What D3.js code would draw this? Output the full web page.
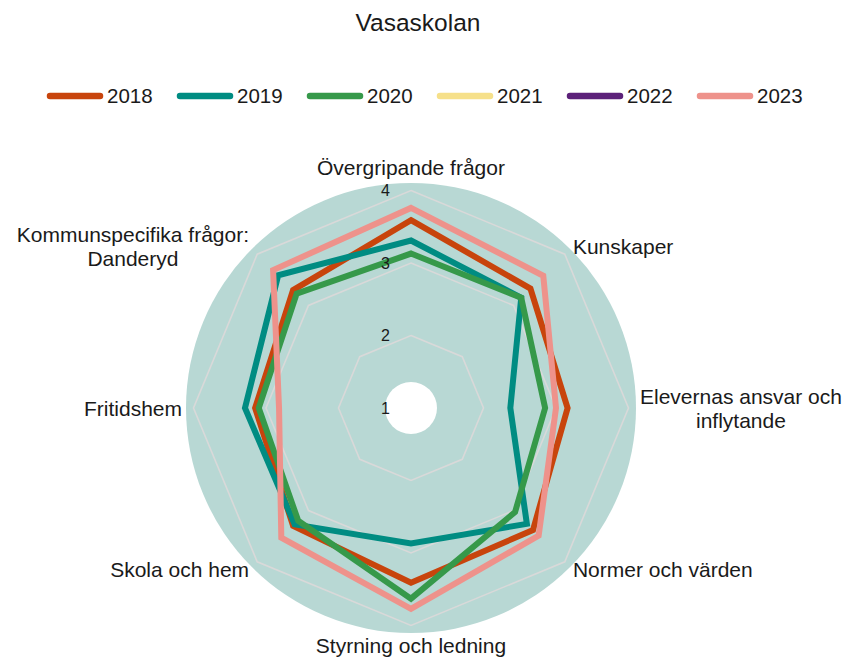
<!DOCTYPE html>
<html>
<head>
<meta charset="utf-8">
<script src="https://cdn.jsdelivr.net/npm/d3@7"></script>
<style>
	body { margin: 0; background: #fff; }
	svg text { font-family: "Liberation Sans", Arial, sans-serif; fill: #1a1a1a; }
</style>
</head>
<body>
<div id="chart"></div>
<script type="text/javascript">
(function() {
	'use strict';

	// categories, clockwise from top
	var categories = [
		'Övergripande frågor',
		'Kunskaper',
		'Elevernas ansvar och|inflytande',
		'Normer och värden',
		'Styrning och ledning',
		'Skola och hem',
		'Fritidshem',
		'Kommunspecifika frågor:|Danderyd'
	];
	var years = ['2018', '2019', '2020', '2021', '2022', '2023'];
	var colors = ['#c8440c', '#008c82', '#36994a', '#f6e08a', '#5c2179', '#ee928b'];

	var values2018 = [3.59, 3.33, 3.16, 3.38, 3.41, 3.30, 3.15, 3.30];
	var values2019 = [3.31, 3.15, 2.37, 3.26, 2.87, 3.27, 3.29, 3.59];
	var values2020 = [3.13, 3.15, 2.85, 3.03, 3.63, 3.20, 3.10, 3.23];
	var values2021 = [];
	var values2022 = [];
	var values2023 = [3.76, 3.58, 3.00, 3.49, 3.77, 3.53, 2.82, 3.69];
	var seriesValues = [values2018, values2019, values2020, values2021, values2022, values2023];

	var tickValues = [1, 2, 3, 4];

	var w = 845, h = 659;
	var cx = 411, cy = 408;
	var bgRadius = 225, holeRadius = 26, labelRadius = 229;

	var svg = d3.select('#chart').append('svg')
		.attr('width', w)
		.attr('height', h);

	var r = d3.scaleLinear().domain([1, 4]).range([0, 217.5]);
	var angle = d3.scalePoint().domain(d3.range(categories.length)).range([0, 2 * Math.PI * (1 - 1 / categories.length)]);

	function px(i, v) { return cx + r(v) * Math.sin(angle(i)); }
	function py(i, v) { return cy - r(v) * Math.cos(angle(i)); }

	// title
	svg.append('text')
		.attr('x', 418)
		.attr('y', 31)
		.attr('text-anchor', 'middle')
		.style('font-size', '24.5px')
		.text('Vasaskolan');

	// legend
	var legend = svg.selectAll('.legend')
		.data(years)
		.enter()
		.append('g')
		.attr('class', 'legend')
		.attr('transform', function(d, i) { return 'translate(' + (50 + i * 130) + ',96)'; });
	legend.append('line')
		.attr('x1', 0).attr('x2', 50)
		.attr('stroke', function(d, i) { return colors[i]; })
		.attr('stroke-width', 6.5)
		.attr('stroke-linecap', 'round');
	legend.append('text')
		.attr('x', 57)
		.attr('dy', '0.36em')
		.style('font-size', '20.5px')
		.text(function(d) { return d; });

	// background disc and hole
	svg.append('circle')
		.attr('cx', cx).attr('cy', cy).attr('r', bgRadius)
		.attr('fill', '#b8d8d4');

	var grid = svg.append('g');
	grid.selectAll('path')
		.data(tickValues.slice(1))
		.enter()
		.append('path')
		.attr('d', function(t) {
			return d3.line()(categories.map(function(c, i) { return [px(i, t), py(i, t)]; })) + 'Z';
		})
		.attr('fill', 'none')
		.attr('stroke', '#d9d9d9')
		.attr('stroke-width', 1.6);

	svg.append('circle')
		.attr('cx', cx).attr('cy', cy).attr('r', holeRadius)
		.attr('fill', '#fff');

	// series
	var line = d3.line()
		.x(function(d, i) { return px(i, d); })
		.y(function(d, i) { return py(i, d); });

	svg.selectAll('.series')
		.data(seriesValues)
		.enter()
		.append('path')
		.attr('class', 'series')
		.attr('d', function(d) { return d.length ? line(d) + 'Z' : null; })
		.attr('fill', 'none')
		.attr('stroke', function(d, i) { return colors[i]; })
		.attr('stroke-width', 6)
		.attr('stroke-linejoin', 'miter');

	// tick labels
	svg.selectAll('.tick')
		.data(tickValues)
		.enter()
		.append('text')
		.attr('class', 'tick')
		.attr('x', cx - 21)
		.attr('y', function(t) { return cy - r(t); })
		.attr('dy', '0.36em')
		.attr('text-anchor', 'end')
		.style('font-size', '16px')
		.text(function(t) { return t; });

	// category labels, multi line blocks centred
	var lineH = 24;
	categories.forEach(function(c, i) {
		var lines = c.split('|');
		var a = angle(i), s = Math.sin(a), co = Math.cos(a);
		var x = cx + labelRadius * s, y = cy - labelRadius * co;
		var g = svg.append('g');
		var texts = lines.map(function(l) {
			return g.append('text').style('font-size', '21px').attr('text-anchor', 'middle').text(l);
		});
		var bw = d3.max(texts, function(t) { return t.node().getComputedTextLength(); });
		var bx = Math.abs(s) < 0.01 ? x : (s > 0 ? x + bw / 2 : x - bw / 2);
		var bh = lines.length * lineH;
		var top;
		if (co > 0.99) top = y - bh;
		else if (co < -0.99) top = y - 4;
		else top = y - bh / 2;
		texts.forEach(function(t, k) {
			t.attr('x', bx).attr('y', top + k * lineH + lineH / 2).attr('dy', '0.36em');
		});
	});
}());
</script>
</body>
</html>
